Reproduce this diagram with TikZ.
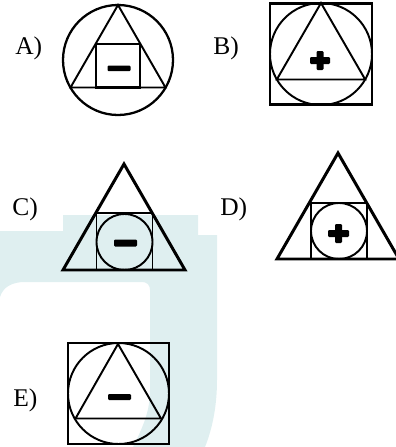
\documentclass[tikz,border=0pt]{standalone}
\usepackage{fontspec}
\setmainfont{Liberation Serif}
\usepackage{xcolor}
\definecolor{wmteal}{RGB}{223,239,240}

\begin{document}
\begin{tikzpicture}[
  x=0.02cm, y=-0.02cm,
  thinline/.style={draw=black, line width=1.1pt, line join=miter},
  heavyline/.style={draw=black, line width=1.7pt, line join=miter},
  sign/.style={fill=black, rounded corners=0.6pt},
  optlabel/.style={anchor=base west, inner sep=0pt, font=\fontsize{14.5}{17}\selectfont},
  wmark/.style={fill=wmteal}
]
  \useasboundingbox (0,0) rectangle (396,447);

  % watermark behind the figures
  \fill[wmark] (0,231) -- (63,231) -- (63,215) -- (198,215) -- (198,235) -- (217,235)
    -- (217,380) .. controls (217,410) and (211,432) .. (205,447) -- (133,447)
    .. controls (144,425) and (150,410) .. (150,390) -- (150,290)
    .. controls (150,285) and (147,282) .. (142,282) -- (25,282)
    .. controls (12,282) and (3,287) .. (0,297) -- cycle;

  % labels
  \node[optlabel] (la) at (15,54) {A)};
  \node[optlabel] (lb) at (213,54) {B)};
  \node[optlabel] (lc) at (12,215) {C)};
  \node[optlabel] (ld) at (220,215) {D)};
  \node[optlabel] (le) at (13,406) {E)};

  % A) circle, triangle, square, minus
  \draw[thinline, line width=1.3pt] (118,60) circle (55);
  \draw[thinline] (118,5) -- (70.5,87.5) -- (165.5,87.5) -- cycle;
  \draw[thinline, line width=1.3pt] (96,44) rectangle (140,87.5);
  \fill[sign] (107.5,65.5) rectangle (130.5,71.2);

  % B) square, circle, triangle, plus
  \draw[heavyline] (270,3.5) rectangle (372,104.5);
  \draw[thinline] (321,54) circle (51);
  \draw[thinline] (321,3) -- (276.8,79.5) -- (365.2,79.5) -- cycle;
  \fill[sign] (310,57) rectangle (330,64);
  \fill[sign] (316.5,51) rectangle (323.5,70);

  % C) triangle, square, circle, minus
  \draw[heavyline] (124,164) -- (63,270) -- (185,270) -- cycle;
  \draw[thinline] (96.5,213) rectangle (152.5,270);
  \draw[thinline] (124.5,242) circle (28);
  \fill[sign] (114,239.5) rectangle (137,246.5);

  % D) triangle, square, circle, plus
  \draw[heavyline] (338,153) -- (277,259) -- (399,259) -- cycle;
  \draw[thinline] (311,203) rectangle (367,259);
  \draw[thinline] (339,231) circle (28);
  \fill[sign] (328,230) rectangle (349,237);
  \fill[sign] (335,224) rectangle (342,243);

  % E) square, circle, triangle, minus
  \draw[heavyline] (68,343) rectangle (169,444);
  \draw[thinline] (118.5,393.5) circle (50.5);
  \draw[thinline] (118,344) -- (75.5,418.5) -- (161,418.5) -- cycle;
  \fill[sign] (108,394) rectangle (131,400);
\end{tikzpicture}
\end{document}
